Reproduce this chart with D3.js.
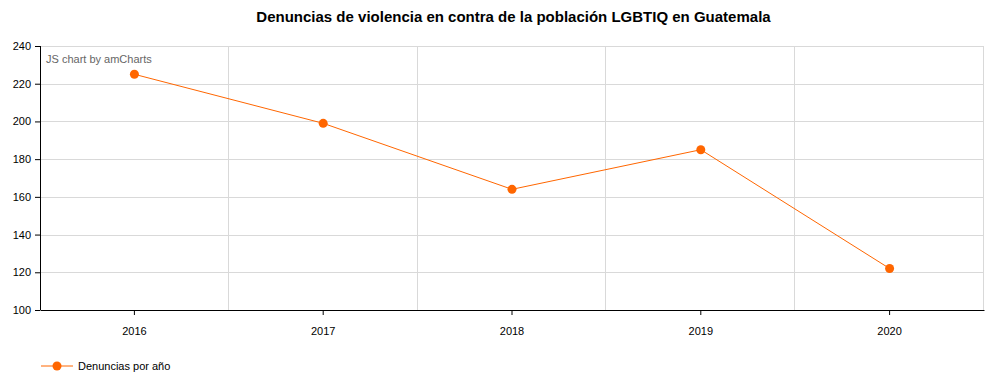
<!DOCTYPE html>
<html>
<head>
<meta charset="utf-8">
<script src="https://cdn.jsdelivr.net/npm/d3@7"></script>
<style>
  body { margin: 0; background: #fff; }
  svg { font-family: "Liberation Sans", Arial, sans-serif; display: block; }
</style>
</head>
<body>
<script>
'use strict';

const years = ["2016", "2017", "2018", "2019", "2020"];
const denuncias = [225, 199, 164, 185, 122];
const yTicks = [100, 120, 140, 160, 180, 200, 220, 240];

const W = 987, H = 386;
const margin = {top: 46, right: 3, bottom: 76, left: 40},
      width = W - margin.left - margin.right,
      height = H - margin.top - margin.bottom,
      color = "#ff6600";

const svg = d3.select("body").append("svg")
    .attr("width", W)
    .attr("height", H);

svg.append("text")
    .attr("x", W / 2 + 20)
    .attr("y", 22)
    .attr("text-anchor", "middle")
    .style("font-size", "15px")
    .style("font-weight", "bold")
    .text("Denuncias de violencia en contra de la población LGBTIQ en Guatemala");

const g = svg.append("g").attr("transform", `translate(${margin.left},${margin.top})`);

const x = d3.scaleBand().domain(years).range([0, width]);
const y = d3.scaleLinear().domain([100, 240]).range([height, 0]);

// horizontal grid
g.append("g")
  .selectAll("line")
  .data(yTicks.slice(1))
  .join("line")
    .attr("x1", 0).attr("x2", width)
    .attr("y1", d => Math.round(y(d)) + 0.5)
    .attr("y2", d => Math.round(y(d)) + 0.5)
    .attr("stroke", "#d9d9d9");

// vertical grid at band edges
g.append("g")
  .selectAll("line")
  .data(years.slice(1).concat([null]))
  .join("line")
    .attr("x1", d => Math.round(d === null ? width : x(d)) - 0.5)
    .attr("x2", d => Math.round(d === null ? width : x(d)) - 0.5)
    .attr("y1", 0).attr("y2", height)
    .attr("stroke", "#d9d9d9");

// y axis
const yAxis = g.append("g")
    .call(d3.axisLeft(y).tickValues(yTicks).tickSize(5).tickPadding(4));
yAxis.select(".domain").attr("stroke", "#000").attr("d", `M0.5,0V${height}`);
yAxis.selectAll("text").style("font-size", "11px").attr("fill", "#000");

// x axis
const xAxis = g.append("g")
    .attr("transform", `translate(0,${height})`)
    .call(d3.axisBottom(x).tickSize(5).tickPadding(12).tickSizeOuter(0));
xAxis.select(".domain").attr("stroke", "#000");
xAxis.selectAll("text").style("font-size", "11px").attr("fill", "#000");

g.append("text")
    .attr("x", 6)
    .attr("y", 17)
    .style("font-size", "11px")
    .attr("fill", "#666")
    .text("JS chart by amCharts");

const line = d3.line()
    .x((d, i) => x(years[i]) + x.bandwidth() / 2)
    .y(d => y(d));

g.append("path")
    .datum(denuncias)
    .attr("fill", "none")
    .attr("stroke", color)
    .attr("stroke-width", 1)
    .attr("d", line);

g.selectAll(".dot")
  .data(denuncias)
  .join("circle")
    .attr("class", "dot")
    .attr("cx", (d, i) => x(years[i]) + x.bandwidth() / 2)
    .attr("cy", d => y(d))
    .attr("r", 4.5)
    .attr("fill", color);

// legend
const lg = svg.append("g").attr("transform", "translate(41,366)");
lg.append("line").attr("x1", 0).attr("x2", 32).attr("stroke", color);
lg.append("circle").attr("cx", 16).attr("r", 4.5).attr("fill", color);
lg.append("text")
    .attr("x", 37)
    .attr("y", 4)
    .style("font-size", "11px")
    .text("Denuncias por año");
</script>
</body>
</html>
